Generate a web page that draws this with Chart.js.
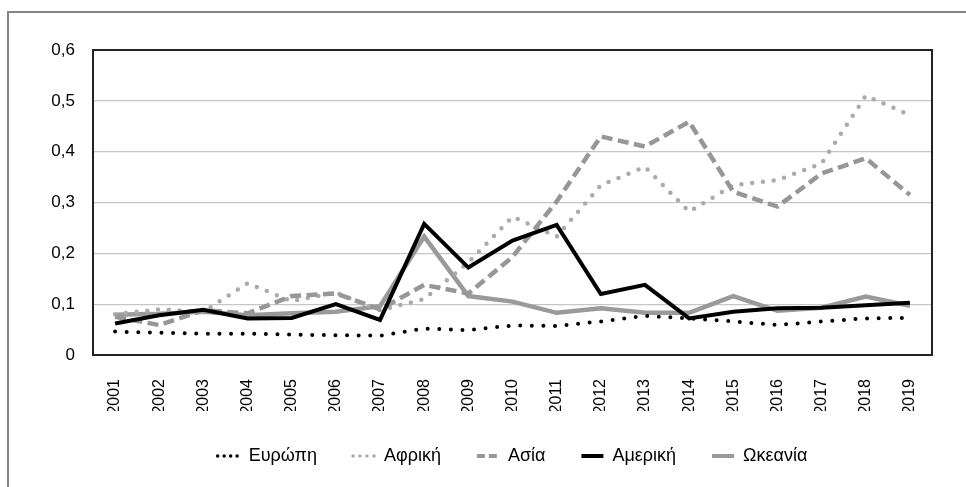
<!DOCTYPE html>
<html>
<head>
<meta charset="utf-8">
<script src="https://cdn.jsdelivr.net/npm/chart.js@4/dist/chart.umd.min.js"></script>
<style>
    html, body { margin: 0; padding: 0; background: #fff; overflow: hidden; }
    #frame {
        position: absolute; left: 7px; top: 11px; width: 980px; height: 490px;
        border-left: 2px solid #858585; border-top: 2px solid #858585;
    }
    #wrap { position: absolute; left: 0; top: 0; width: 966px; height: 487px; }
</style>
</head>
<body>
<div id="frame"></div>
<div id="wrap"><canvas id="chart" width="966" height="487"></canvas></div>
<script>
const years = ["2001", "2002", "2003", "2004", "2005", "2006", "2007", "2008", "2009", "2010",
    "2011", "2012", "2013", "2014", "2015", "2016", "2017", "2018", "2019"];

const europe  = [0.046, 0.044, 0.042, 0.042, 0.040, 0.039, 0.038, 0.052, 0.049, 0.058, 0.057, 0.066, 0.077, 0.072, 0.066, 0.059, 0.066, 0.072, 0.073];
const africa  = [0.080, 0.090, 0.085, 0.141, 0.106, 0.123, 0.088, 0.110, 0.182, 0.272, 0.233, 0.334, 0.370, 0.282, 0.334, 0.344, 0.377, 0.510, 0.472];
const asia    = [0.075, 0.059, 0.088, 0.082, 0.116, 0.121, 0.090, 0.138, 0.121, 0.193, 0.302, 0.430, 0.410, 0.459, 0.321, 0.292, 0.357, 0.387, 0.315];
const america = [0.062, 0.078, 0.089, 0.072, 0.073, 0.100, 0.069, 0.258, 0.172, 0.225, 0.256, 0.120, 0.138, 0.072, 0.085, 0.092, 0.093, 0.098, 0.103];
const oceania = [0.079, 0.081, 0.085, 0.078, 0.082, 0.085, 0.096, 0.233, 0.116, 0.105, 0.083, 0.092, 0.083, 0.083, 0.116, 0.087, 0.093, 0.115, 0.097];

const FONT = "'Liberation Sans', Arial, sans-serif";

// legend samples: shorter dashes than the plotted lines (by dataset index)
const legendDash = [[0, 6.5], [0, 7], [8, 4], [], []];
const legendCap = ["round", "round", "butt", "butt", "butt"];
const legendWidth = [3.5, 3.5, 4, 4, 4];

const plotFrame = {
    id: "plotFrame",
    beforeDatasetsDraw(chart) {
        const { ctx, chartArea: a } = chart;
        ctx.save();
        ctx.strokeStyle = "#222";
        ctx.lineWidth = 2;
        ctx.strokeRect(a.left, a.top, a.right - a.left, a.bottom - a.top);
        ctx.restore();
    }
};

function line(label, data, color, width, dash, cap, order) {
    return {
        label: label,
        data: data,
        borderColor: color,
        backgroundColor: color,
        borderWidth: width,
        borderDash: dash,
        borderCapStyle: cap,
        pointRadius: 0,
        pointHoverRadius: 0,
        tension: 0,
        fill: false,
        order: order
    };
}

new Chart(document.getElementById("chart"), {
    type: "line",
    data: {
        labels: years,
        datasets: [
            line("Ευρώπη", europe, "#000000", 4, [0, 11.6], "round", 0),
            line("Αφρική", africa, "#ababab", 4.5, [0, 10.8], "round", 3),
            line("Ασία", asia, "#979797", 4.5, [11, 5.5], "butt", 2),
            line("Αμερική", america, "#000000", 4, [], "butt", 1),
            line("Ωκεανία", oceania, "#9a9a9a", 4.5, [], "butt", 4)
        ]
    },
    options: {
        responsive: false,
        animation: false,
        layout: { padding: { left: 45, right: 34, top: 50, bottom: 12 } },
        plugins: {
            tooltip: { enabled: false },
            legend: {
                position: "bottom",
                fullSize: false,
                labels: {
                    usePointStyle: true,
                    pointStyle: "line",
                    pointStyleWidth: 22,
                    padding: 36,
                    color: "#000",
                    font: { family: FONT, size: 18 },
                    sort: (a, b) => a.datasetIndex - b.datasetIndex,
                    generateLabels(chart) {
                        const items = Chart.defaults.plugins.legend.labels.generateLabels(chart);
                        items.forEach((item) => {
                            const i = item.datasetIndex;
                            item.lineDash = legendDash[i];
                            item.lineCap = legendCap[i];
                            item.lineWidth = legendWidth[i];
                        });
                        return items;
                    }
                }
            }
        },
        scales: {
            x: {
                offset: true,
                grid: { display: false },
                border: { display: false },
                ticks: {
                    autoSkip: false,
                    minRotation: 90,
                    maxRotation: 90,
                    padding: 16,
                    color: "#000",
                    font: { family: FONT, size: 16 }
                },
                afterFit(scale) { scale.height = 56; }
            },
            y: {
                min: 0,
                max: 0.6,
                border: { display: false },
                grid: {
                    drawTicks: false,
                    lineWidth: 1.3,
                    color: (c) => (c.tick && (c.tick.value === 0 || c.tick.value > 0.59)) ? "rgba(0,0,0,0)" : "#c6c6c6"
                },
                ticks: {
                    stepSize: 0.1,
                    padding: 18,
                    color: "#000",
                    font: { family: FONT, size: 17 },
                    callback: (v) => v === 0 ? "0" : v.toFixed(1).replace(".", ",")
                },
                afterFit(scale) { scale.width = 48; }
            }
        }
    },
    plugins: [plotFrame]
});
</script>
</body>
</html>
